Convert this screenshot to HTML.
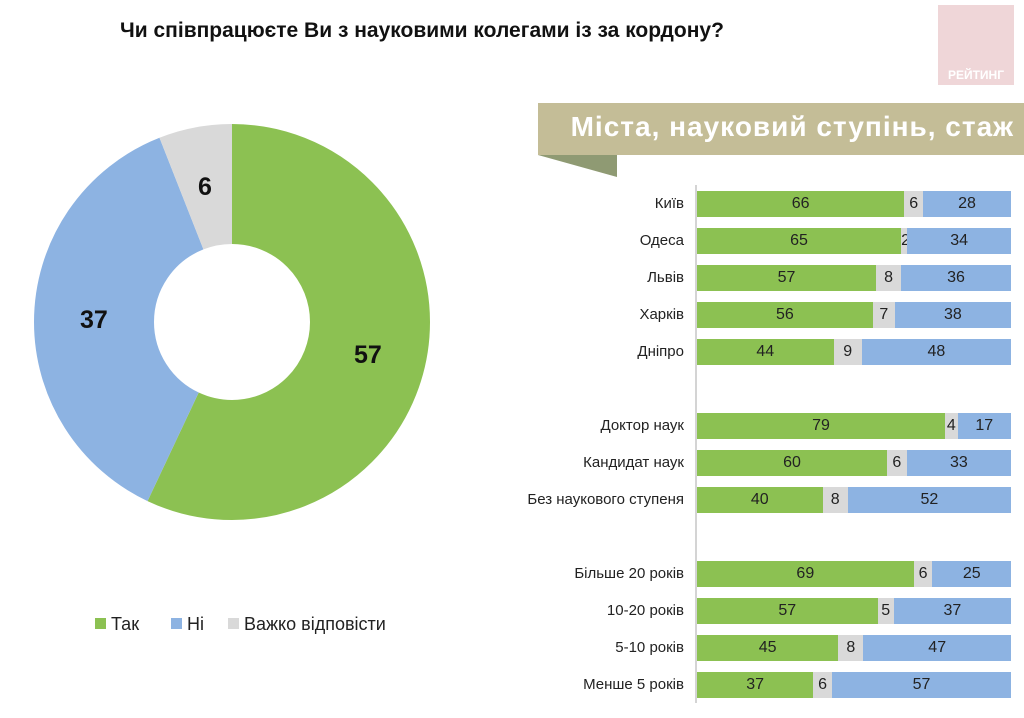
<!DOCTYPE html>
<html><head><meta charset="utf-8"><style>
body{margin:0;width:1024px;height:718px;background:#fff;position:relative;overflow:hidden;font-family:"Liberation Sans",sans-serif;}
.t{position:absolute;left:120px;top:19px;font-size:21px;font-weight:bold;color:#111;white-space:nowrap;}
.logo{position:absolute;left:938px;top:5px;width:76px;height:80px;background:#efd6d8;}
.logo span{position:absolute;bottom:3px;left:0;width:76px;text-align:center;color:#fff;font-weight:bold;font-size:12px;}
.ban{position:absolute;left:538px;top:103px;width:486px;height:52px;background:#c4bd97;}
.ban span{position:absolute;right:10px;top:8px;color:#fff;font-weight:bold;font-size:28px;letter-spacing:1px;white-space:nowrap;}
.bar{position:absolute;left:697px;width:314px;height:26px;display:flex;font-size:16px;color:#222;line-height:26px;text-align:center;}
.bar div{overflow:visible;white-space:nowrap;}
.g{background:#8cc152}.s{background:#d9d9d9}.b{background:#8db3e2}
.lab{position:absolute;right:340px;font-size:15px;color:#222;line-height:26px;text-align:right;white-space:nowrap;}
.leg{position:absolute;top:614px;font-size:18px;color:#222;}
.leg i{display:inline-block;width:11px;height:11px;margin-right:5px;vertical-align:1px;}
.d{position:absolute;font-size:25px;font-weight:bold;color:#111;}
</style></head><body>
<div class="t">Чи співпрацюєте Ви з науковими колегами із за кордону?</div>
<div class="logo"><span>РЕЙТИНГ</span></div>
<svg style="position:absolute;left:0;top:0" width="1024" height="718">
<polygon points="538,155 617,155 617,177" fill="#8f9a73"/>
<line x1="696" y1="185" x2="696" y2="703" stroke="#aaa" stroke-width="1"/>
<g transform="rotate(-90 232 322)" fill="none" stroke-width="120">
<circle cx="232" cy="322" r="138" stroke="#8cc152" stroke-dasharray="494.2 1000"/>
<circle cx="232" cy="322" r="138" stroke="#8db3e2" stroke-dasharray="0 494.2 320.8 1000"/>
<circle cx="232" cy="322" r="138" stroke="#d9d9d9" stroke-dasharray="0 815 52.1 1000"/>
</g>
</svg>
<div class="ban"><span>Міста, науковий ступінь, стаж</span></div>
<div class="d" style="left:198px;top:173px">6</div>
<div class="d" style="left:80px;top:306px">37</div>
<div class="d" style="left:354px;top:341px">57</div>
<div class="leg" style="left:95px"><i style="background:#8cc152"></i>Так</div>
<div class="leg" style="left:171px"><i style="background:#8db3e2"></i>Ні</div>
<div class="leg" style="left:228px"><i style="background:#d9d9d9"></i>Важко відповісти</div>

<div class="lab" style="top:191px">Київ</div>
<div class="bar" style="top:191px"><div class="g" style="width:66%">66</div><div class="s" style="width:6%">6</div><div class="b" style="width:28%">28</div></div>
<div class="lab" style="top:228px">Одеса</div>
<div class="bar" style="top:228px"><div class="g" style="width:65%">65</div><div class="s" style="width:2%">2</div><div class="b" style="width:33%">34</div></div>
<div class="lab" style="top:265px">Львів</div>
<div class="bar" style="top:265px"><div class="g" style="width:57%">57</div><div class="s" style="width:8%">8</div><div class="b" style="width:35%">36</div></div>
<div class="lab" style="top:302px">Харків</div>
<div class="bar" style="top:302px"><div class="g" style="width:56%">56</div><div class="s" style="width:7%">7</div><div class="b" style="width:37%">38</div></div>
<div class="lab" style="top:339px">Дніпро</div>
<div class="bar" style="top:339px"><div class="g" style="width:43.5%">44</div><div class="s" style="width:9%">9</div><div class="b" style="width:47.5%">48</div></div>

<div class="lab" style="top:413px">Доктор наук</div>
<div class="bar" style="top:413px"><div class="g" style="width:79%">79</div><div class="s" style="width:4%">4</div><div class="b" style="width:17%">17</div></div>
<div class="lab" style="top:450px">Кандидат наук</div>
<div class="bar" style="top:450px"><div class="g" style="width:60.5%">60</div><div class="s" style="width:6.3%">6</div><div class="b" style="width:33.2%">33</div></div>
<div class="lab" style="top:487px">Без наукового ступеня</div>
<div class="bar" style="top:487px"><div class="g" style="width:40%">40</div><div class="s" style="width:8%">8</div><div class="b" style="width:52%">52</div></div>

<div class="lab" style="top:561px">Більше 20 років</div>
<div class="bar" style="top:561px"><div class="g" style="width:69%">69</div><div class="s" style="width:6%">6</div><div class="b" style="width:25%">25</div></div>
<div class="lab" style="top:598px">10-20 років</div>
<div class="bar" style="top:598px"><div class="g" style="width:57.5%">57</div><div class="s" style="width:5.2%">5</div><div class="b" style="width:37.3%">37</div></div>
<div class="lab" style="top:635px">5-10 років</div>
<div class="bar" style="top:635px"><div class="g" style="width:45%">45</div><div class="s" style="width:8%">8</div><div class="b" style="width:47%">47</div></div>
<div class="lab" style="top:672px">Менше 5 років</div>
<div class="bar" style="top:672px"><div class="g" style="width:37%">37</div><div class="s" style="width:6%">6</div><div class="b" style="width:57%">57</div></div>
</body></html>
